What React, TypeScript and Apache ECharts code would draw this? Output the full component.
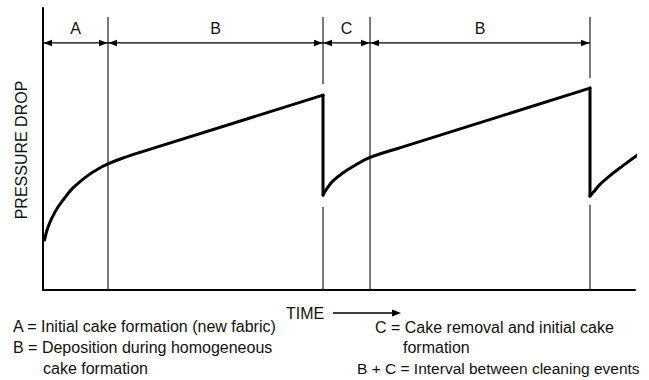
import React, { useEffect, useRef } from "react";
import * as echarts from "echarts";

// Time (0-100) and pressure drop (0-100), arbitrary units
const firstRise: number[][] = [
  [0.25, 17.7], [0.84, 22.3], [2.03, 27.7], [3.38, 31.9], [5.07, 36.2],
  [7.43, 40.4], [9.29, 42.9], [10.98, 44.7], [13.51, 46.8], [16.39, 48.8],
];
const firstBuild: number[][] = [[16.39, 48.8], [47.3, 69.1]];
const firstClean: number[][] = [[47.3, 69.1], [47.3, 33.7]];
const secondRise: number[][] = [
  [47.3, 33.7], [47.97, 36.0], [48.99, 38.7], [50.51, 41.3], [52.36, 43.8],
  [55.24, 47.0], [59.97, 50.2],
];
const secondBuild: number[][] = [[59.97, 50.2], [92.4, 71.6]];
const secondClean: number[][] = [[92.4, 71.6], [92.4, 33.3]];
const thirdRise: number[][] = [
  [92.4, 33.3], [93.07, 34.9], [93.92, 37.1], [95.27, 39.7], [97.97, 44.1],
  [100.42, 47.9],
];

// Phase annotation
const phases = ["A", "B", "C", "B"];
const boundaries = [0, 10.98, 47.3, 55.24, 92.4];
const dividerTimes = [10.98, 47.3, 55.24, 92.4];
const dividerTop = 96.8;
const dividerGapLow: (number | null)[] = [null, 29.4, null, 30.1];
const dividerGapHigh: (number | null)[] = [null, 73.0, null, 75.2];
const arrowLevel = 87.6;
const labelLevel = 92.8;

const legendLines = [
  "A = Initial cake formation (new fabric)",
  "B = Deposition during homogeneous",
  "cake formation",
  "C = Cake removal and initial cake",
  "formation",
  "B + C = Interval between cleaning events",
];

const FONT = "Liberation Sans, Arial, Helvetica, sans-serif";
const INK = "#111";

export default function App() {
  const ref = useRef<HTMLDivElement>(null);
  useEffect(() => {
    if (!ref.current) return;
    const chart = echarts.init(ref.current, undefined, { renderer: "svg" });

    const curveStyle = { color: "#000", width: 3, cap: "round", join: "round" };
    const mkLine = (name: string, data: number[][], smooth: boolean) => ({
      name,
      type: "line",
      data,
      smooth: smooth ? 0.4 : false,
      showSymbol: false,
      symbol: "none",
      clip: false,
      silent: true,
      lineStyle: curveStyle,
      z: 5,
    });

    const legendPos = [
      [13, 326], [13, 347], [43, 368], [375, 327], [403, 347], [357, 368],
    ];
    const legendSize = [16, 16, 16, 16, 16, 15.5];

    chart.setOption({
      animation: false,
      backgroundColor: "#fff",
      grid: { left: 43, top: 8, right: 14, bottom: 90 },
      xAxis: {
        type: "value", min: 0, max: 100,
        axisLine: { show: true, lineStyle: { color: "#000", width: 2 } },
        axisTick: { show: false }, axisLabel: { show: false }, splitLine: { show: false },
      },
      yAxis: {
        type: "value", min: 0, max: 100,
        axisLine: { show: true, lineStyle: { color: "#000", width: 2 } },
        axisTick: { show: false }, axisLabel: { show: false }, splitLine: { show: false },
      },
      series: [
        mkLine("rise1", firstRise, true),
        mkLine("build1", firstBuild, false),
        mkLine("clean1", firstClean, false),
        mkLine("rise2", secondRise, true),
        mkLine("build2", secondBuild, false),
        mkLine("clean2", secondClean, false),
        mkLine("rise3", thirdRise, true),
        {
          type: "custom",
          name: "dividers",
          silent: true,
          clip: false,
          data: dividerTimes.map((t, i) => [t, i]),
          renderItem: (params: any, api: any) => {
            const i = params.dataIndex;
            const t = api.value(0);
            const segs: number[][] = [];
            const lo = dividerGapLow[i];
            const hi = dividerGapHigh[i];
            if (lo != null && hi != null) {
              segs.push([0, lo], [hi, dividerTop]);
            } else {
              segs.push([0, dividerTop]);
            }
            return {
              type: "group",
              children: segs.map((s) => {
                const a = api.coord([t, s[0]]);
                const b = api.coord([t, s[1]]);
                return {
                  type: "line",
                  shape: { x1: a[0], y1: a[1], x2: b[0], y2: b[1] },
                  style: { stroke: "#222", lineWidth: 1.2 },
                };
              }),
            };
          },
          z: 3,
        },
        {
          type: "custom",
          name: "phases",
          silent: true,
          clip: false,
          data: phases.map((p, i) => [boundaries[i], boundaries[i + 1]]),
          renderItem: (params: any, api: any) => {
            const i = params.dataIndex;
            const t0 = api.value(0);
            const t1 = api.value(1);
            const a = api.coord([t0, arrowLevel]);
            const b = api.coord([t1, arrowLevel]);
            const m = api.coord([(t0 + t1) / 2, labelLevel]);
            const y = a[1];
            const L = 9, H = 3.2;
            return {
              type: "group",
              children: [
                {
                  type: "line",
                  shape: { x1: a[0], y1: y, x2: b[0], y2: y },
                  style: { stroke: "#000", lineWidth: 1.3 },
                },
                {
                  type: "polygon",
                  shape: { points: [[a[0] + 0.5, y], [a[0] + L, y - H], [a[0] + L, y + H]] },
                  style: { fill: "#000" },
                },
                {
                  type: "polygon",
                  shape: { points: [[b[0] - 0.5, y], [b[0] - L, y - H], [b[0] - L, y + H]] },
                  style: { fill: "#000" },
                },
                {
                  type: "text",
                  x: m[0],
                  y: m[1],
                  style: {
                    text: phases[i],
                    fill: INK,
                    font: `16px ${FONT}`,
                    align: "center",
                    verticalAlign: "middle",
                  },
                },
              ],
            };
          },
          z: 4,
        },
      ],
      graphic: [
        {
          type: "text",
          x: 21,
          y: 150,
          rotation: Math.PI / 2,
          style: {
            text: "PRESSURE DROP",
            fill: INK,
            font: `16px ${FONT}`,
            align: "center",
            verticalAlign: "middle",
          },
        },
        {
          type: "text",
          x: 286,
          y: 313,
          style: {
            text: "TIME",
            fill: INK,
            font: `16px ${FONT}`,
            align: "left",
            verticalAlign: "middle",
          },
        },
        {
          type: "line",
          shape: { x1: 333, y1: 313, x2: 394, y2: 313 },
          style: { stroke: "#000", lineWidth: 1.3 },
        },
        {
          type: "polygon",
          shape: { points: [[401, 313], [392, 309.5], [392, 316.5]] },
          style: { fill: "#000" },
        },
        ...legendLines.map((txt, i) => ({
          type: "text",
          x: legendPos[i][0],
          y: legendPos[i][1],
          style: {
            text: txt,
            fill: INK,
            font: `${legendSize[i]}px ${FONT}`,
            align: "left",
            verticalAlign: "middle",
          },
        })),
      ],
    });
    return () => chart.dispose();
  }, []);
  return (
    <div
      ref={ref}
      style={{ position: "fixed", left: 0, top: 0, width: 649, height: 380, background: "#fff" }}
    />
  );
}
